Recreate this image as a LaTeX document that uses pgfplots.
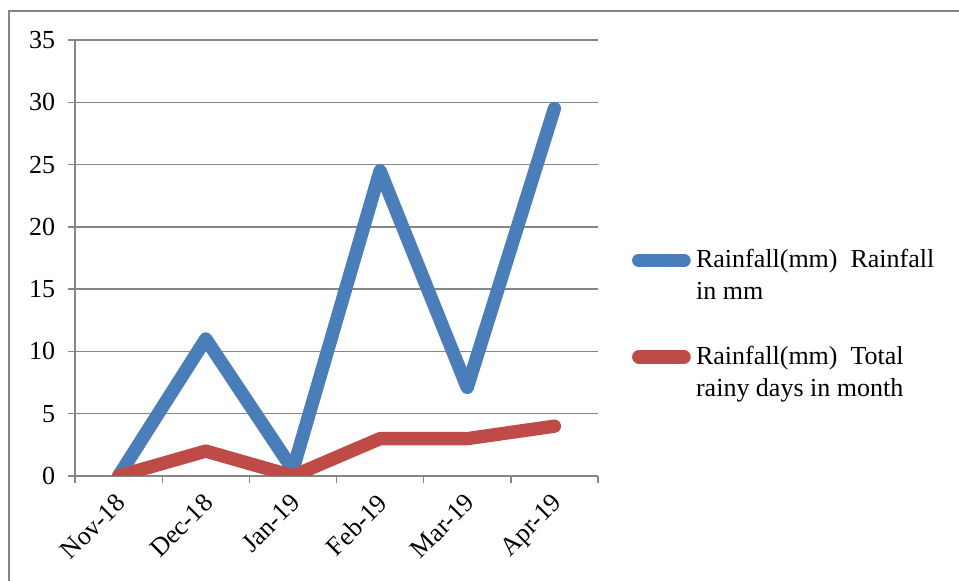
\documentclass[border=0pt]{standalone}
\usepackage{pgfplots}
\pgfplotsset{compat=1.18}
\usepackage{fontspec}
\setmainfont{Liberation Serif}
\definecolor{bl}{RGB}{74,126,187}
\definecolor{rd}{RGB}{190,75,72}
\definecolor{gr}{RGB}{134,134,134}
\begin{document}
\fontsize{19.5}{24}\selectfont
\begin{tikzpicture}
\useasboundingbox (0,0) rectangle (719.25pt,435.75pt);
\draw[gr, line width=1.2pt] (6.75pt,0pt) -- (6.75pt,427.5pt) -- (719.25pt,427.5pt);
\begin{axis}[
  at={(56.25pt,78.75pt)}, anchor=south west,
  scale only axis, width=392.25pt, height=327pt,
  xmin=-0.5, xmax=5.5, ymin=0, ymax=35,
  ytick={0,5,...,35},
  xtick={-0.5,0.5,...,5.5}, xticklabels={},
  extra x ticks={0,1,2,3,4,5},
  extra x tick labels={Nov-18,Dec-18,Jan-19,Feb-19,Mar-19,Apr-19},
  extra x tick style={major tick length=0pt, grid=none,
     xticklabel style={rotate=45, anchor=north east, xshift=-4pt, yshift=0pt}},
  axis x line*=bottom, axis y line*=left,
  axis line style={gr, line width=1pt, -},
  tick style={gr, line width=1pt},
  tick align=outside, major tick length=5.25pt,
  ymajorgrids, grid style={gr, line width=1pt},
  /pgf/number format/assume math mode=true,
  ticklabel style={font=\fontsize{19.5}{24}\selectfont},
  yticklabel style={xshift=-3pt},
  legend style={draw=none, fill=none, at={(axis description cs:1.057,0.533)}, anchor=north west,
    font=\fontsize{19.5}{24}\selectfont, cells={align=left, anchor=west}, row sep=27.75pt,
    column sep=2pt},
  legend image code/.code={\draw[#1] (0pt,12pt) -- (34pt,12pt);},
]
\addplot[bl, line width=10pt, line cap=round, line join=round] coordinates {
 (0,0) (1,11) (2,0.5) (3,24.5) (4,7.1) (5,29.5)};
\addlegendentry{Rainfall(mm)\ \ Rainfall\\in mm}
\addplot[rd, line width=10pt, line cap=round, line join=round] coordinates {
 (0,0) (1,2) (2,0) (3,3) (4,3) (5,4)};
\addlegendentry{Rainfall(mm)\ \ Total\\rainy days in month}
\end{axis}
\end{tikzpicture}
\end{document}
